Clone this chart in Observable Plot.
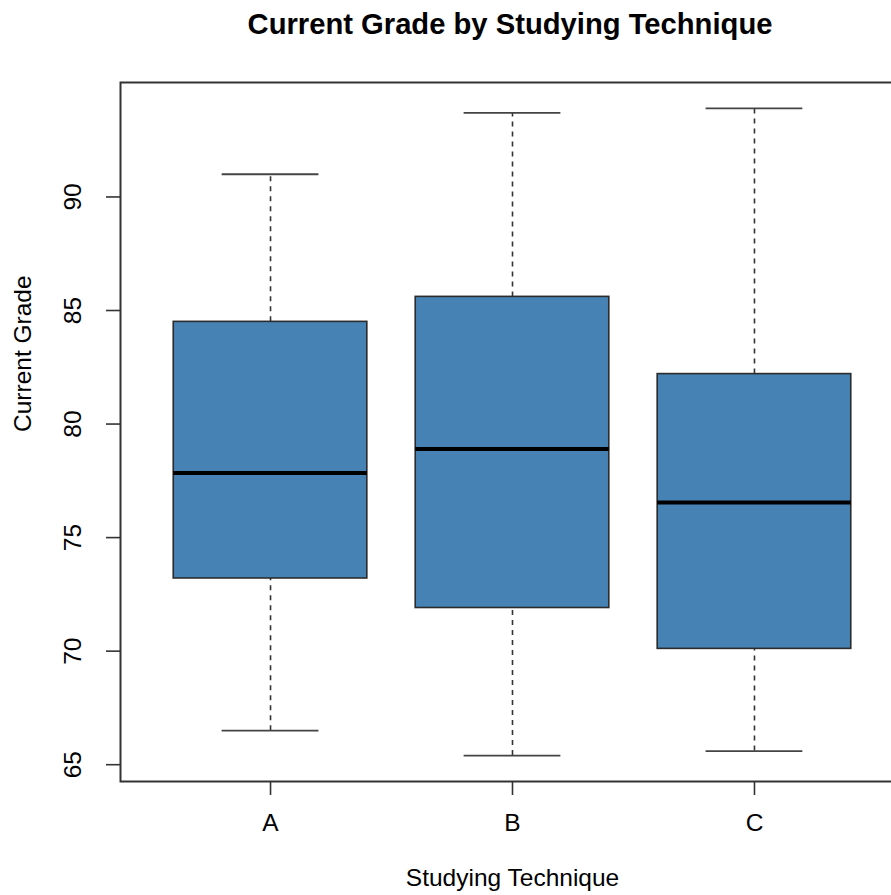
<!DOCTYPE html>
<html>
<head>
<meta charset="utf-8">
<script src="https://cdn.jsdelivr.net/npm/d3@7"></script>
<script src="https://cdn.jsdelivr.net/npm/@observablehq/plot@0.6"></script>
<style>
  html, body { margin: 0; padding: 0; background: #fff; overflow: hidden; width: 891px; height: 895px; }
  #title { position: relative; height: 60px; width: 891px; }
  #title span {
    position: absolute; left: 510px; top: 10px; transform: translateX(-50%);
    font-family: "Liberation Sans", Arial, sans-serif; font-weight: bold; font-size: 29.2px;
    line-height: 28px; white-space: nowrap; color: #000;
  }
  #chart svg { display: block; }
</style>
</head>
<body>
<div id="title"><span>Current Grade by Studying Technique</span></div>
<div id="chart"></div>
<script>
// Data
const categories = ["A", "B", "C"];
const whiskerLow  = [66.5, 65.4, 65.6];
const q1          = [73.2, 71.9, 70.1];
const median      = [77.85, 78.9, 76.55];
const q3          = [84.5, 85.6, 82.2];
const whiskerHigh = [91.0, 93.7, 93.9];
const yTicks = [65, 70, 75, 80, 85, 90];

const table = categories.map((c, i) => ({
  cat: c, pos: i + 1,
  lo: whiskerLow[i], q1: q1[i], med: median[i], q3: q3[i], hi: whiskerHigh[i]
}));

// R-style 4% axis expansion
const n = categories.length;
const xDom = [0.5 - 0.04 * n, n + 0.5 + 0.04 * n];
const yMin = d3.min(whiskerLow), yMax = d3.max(whiskerHigh);
const yPad = (yMax - yMin) * 0.04;
const yDom = [yMin - yPad, yMax + yPad];

const BOX = 0.4, CAP = 0.2;
const font = "Liberation Sans, Arial, sans-serif";
const line = "#333";
const fs = 24.5;

const chart = Plot.plot({
  width: 891,
  height: 835,
  marginTop: 22,
  marginBottom: 114,
  marginLeft: 120,
  marginRight: -13,
  style: { fontFamily: font, background: "white", color: "#000" },
  x: { domain: xDom },
  y: { domain: yDom },
  marks: [
    // whiskers (dashed)
    Plot.ruleX(table, { x: "pos", y1: "q3", y2: "hi", stroke: "#333", strokeWidth: 1.6, strokeDasharray: "5,5" }),
    Plot.ruleX(table, { x: "pos", y1: "lo", y2: "q1", stroke: "#333", strokeWidth: 1.6, strokeDasharray: "5,5" }),
    // staples
    Plot.ruleY(table, { y: "hi", x1: d => d.pos - CAP, x2: d => d.pos + CAP, stroke: "#444", strokeWidth: 1.8 }),
    Plot.ruleY(table, { y: "lo", x1: d => d.pos - CAP, x2: d => d.pos + CAP, stroke: "#444", strokeWidth: 1.8 }),
    // boxes
    Plot.rect(table, { x1: d => d.pos - BOX, x2: d => d.pos + BOX, y1: "q1", y2: "q3", fill: "#4682B4", stroke: "#2b2b2b", strokeWidth: 1.6 }),
    // medians
    Plot.ruleY(table, { y: "med", x1: d => d.pos - BOX, x2: d => d.pos + BOX, stroke: "#000", strokeWidth: 4 }),
    // frame
    Plot.frame({ stroke: line, strokeWidth: 2 }),
    // axes
    Plot.axisY({
      ticks: yTicks, tickSize: 14, tickPadding: 26, tickRotate: -90,
      fontSize: fs, stroke: line, strokeWidth: 1.6, label: null
    }),
    Plot.axisX({
      ticks: [1, 2, 3], tickFormat: d => categories[d - 1], tickSize: 14, tickPadding: 18,
      fontSize: fs, stroke: line, strokeWidth: 1.6, label: null
    }),
    // axis titles
    Plot.text(["Current Grade"], { frameAnchor: "left", dx: -90, rotate: -90, lineAnchor: "bottom", fontSize: fs, fill: "#000" }),
    Plot.text(["Studying Technique"], { x: () => (xDom[0] + xDom[1]) / 2, frameAnchor: "bottom", dy: 104, lineAnchor: "bottom", fontSize: fs, fill: "#000" })
  ]
});
document.getElementById("chart").appendChild(chart);
</script>
</body>
</html>
